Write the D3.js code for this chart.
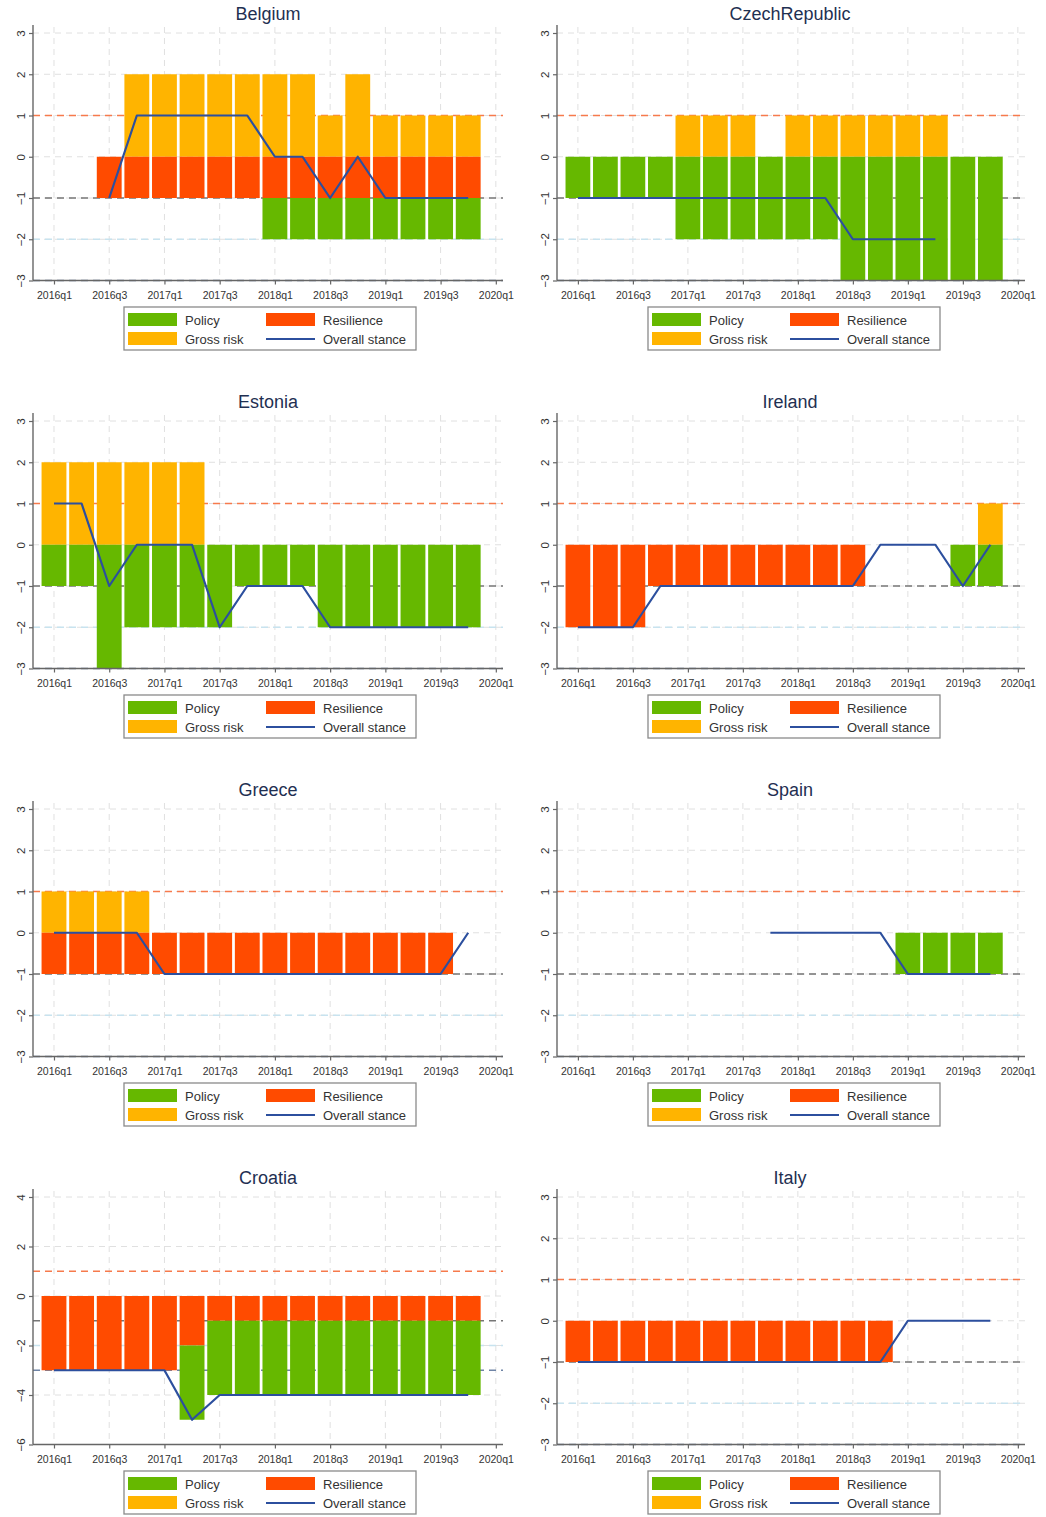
<!DOCTYPE html>
<html>
<head>
<meta charset="utf-8">
<script src="https://cdn.jsdelivr.net/npm/d3@7"></script>
<style>
  body { margin: 0; background: #fff; }
  svg { display: block; }
  text { font-family: "Liberation Sans", Arial, sans-serif; }
</style>
</head>
<body>
<svg id="chart" width="1046" height="1517"></svg>
<script>
// Quarters covered by the bars (2016q1 .. 2019q4)
const quarters = ["2016q1","2016q2","2016q3","2016q4","2017q1","2017q2","2017q3","2017q4",
                  "2018q1","2018q2","2018q3","2018q4","2019q1","2019q2","2019q3","2019q4"];
const xTickLabels = ["2016q1","2016q3","2017q1","2017q3","2018q1","2018q3","2019q1","2019q3","2020q1"];
const yTicksStandard = [-3, -2, -1, 0, 1, 2, 3];
const yTicksWide = [-6, -4, -2, 0, 2, 4];
const seriesNames = ["Policy", "Resilience", "Gross risk", "Overall stance"];
const thresholdValues = [1, -1, -2, -3];

// Belgium
const belgiumPolicy     = [0,0,0,0,0,0,0,0,-1,-1,-1,-1,-1,-1,-1,-1];
const belgiumResilience = [0,0,-1,-1,-1,-1,-1,-1,-1,-1,-1,-1,-1,-1,-1,-1];
const belgiumGross      = [0,0,0,2,2,2,2,2,2,2,1,2,1,1,1,1];
const belgiumStance     = [null,null,-1,1,1,1,1,1,0,0,-1,0,-1,-1,-1,-1];
// Czech Republic
const czechPolicy       = [-1,-1,-1,-1,-2,-2,-2,-2,-2,-2,-3,-3,-3,-3,-3,-3];
const czechResilience   = [0,0,0,0,0,0,0,0,0,0,0,0,0,0,0,0];
const czechGross        = [0,0,0,0,1,1,1,0,1,1,1,1,1,1,0,0];
const czechStance       = [-1,-1,-1,-1,-1,-1,-1,-1,-1,-1,-2,-2,-2,-2,null,null];
// Estonia
const estoniaPolicy     = [-1,-1,-3,-2,-2,-2,-2,-1,-1,-1,-2,-2,-2,-2,-2,-2];
const estoniaResilience = [0,0,0,0,0,0,0,0,0,0,0,0,0,0,0,0];
const estoniaGross      = [2,2,2,2,2,2,0,0,0,0,0,0,0,0,0,0];
const estoniaStance     = [1,1,-1,0,0,0,-2,-1,-1,-1,-2,-2,-2,-2,-2,-2];
// Ireland
const irelandPolicy     = [0,0,0,0,0,0,0,0,0,0,0,0,0,0,-1,-1];
const irelandResilience = [-2,-2,-2,-1,-1,-1,-1,-1,-1,-1,-1,0,0,0,0,0];
const irelandGross      = [0,0,0,0,0,0,0,0,0,0,0,0,0,0,0,1];
const irelandStance     = [-2,-2,-2,-1,-1,-1,-1,-1,-1,-1,-1,0,0,0,-1,0];
// Greece
const greecePolicy      = [0,0,0,0,0,0,0,0,0,0,0,0,0,0,0,0];
const greeceResilience  = [-1,-1,-1,-1,-1,-1,-1,-1,-1,-1,-1,-1,-1,-1,-1,0];
const greeceGross       = [1,1,1,1,0,0,0,0,0,0,0,0,0,0,0,0];
const greeceStance      = [0,0,0,0,-1,-1,-1,-1,-1,-1,-1,-1,-1,-1,-1,0];
// Spain
const spainPolicy       = [0,0,0,0,0,0,0,0,0,0,0,0,-1,-1,-1,-1];
const spainResilience   = [0,0,0,0,0,0,0,0,0,0,0,0,0,0,0,0];
const spainGross        = [0,0,0,0,0,0,0,0,0,0,0,0,0,0,0,0];
const spainStance       = [null,null,null,null,null,null,null,0,0,0,0,0,-1,-1,-1,-1];
// Croatia
const croatiaPolicy     = [0,0,0,0,0,-3,-3,-3,-3,-3,-3,-3,-3,-3,-3,-3];
const croatiaResilience = [-3,-3,-3,-3,-3,-2,-1,-1,-1,-1,-1,-1,-1,-1,-1,-1];
const croatiaGross      = [0,0,0,0,0,0,0,0,0,0,0,0,0,0,0,0];
const croatiaStance     = [-3,-3,-3,-3,-3,-5,-4,-4,-4,-4,-4,-4,-4,-4,-4,-4];
// Italy
const italyPolicy       = [0,0,0,0,0,0,0,0,0,0,0,0,0,0,0,0];
const italyResilience   = [-1,-1,-1,-1,-1,-1,-1,-1,-1,-1,-1,-1,0,0,0,0];
const italyGross        = [0,0,0,0,0,0,0,0,0,0,0,0,0,0,0,0];
const italyStance       = [-1,-1,-1,-1,-1,-1,-1,-1,-1,-1,-1,-1,0,0,0,0];

const panels = [
  { title: "Belgium",       policy: belgiumPolicy, resilience: belgiumResilience, gross: belgiumGross, stance: belgiumStance, yTicks: yTicksStandard },
  { title: "CzechRepublic", policy: czechPolicy,   resilience: czechResilience,   gross: czechGross,   stance: czechStance,   yTicks: yTicksStandard },
  { title: "Estonia",       policy: estoniaPolicy, resilience: estoniaResilience, gross: estoniaGross, stance: estoniaStance, yTicks: yTicksStandard },
  { title: "Ireland",       policy: irelandPolicy, resilience: irelandResilience, gross: irelandGross, stance: irelandStance, yTicks: yTicksStandard },
  { title: "Greece",        policy: greecePolicy,  resilience: greeceResilience,  gross: greeceGross,  stance: greeceStance,  yTicks: yTicksStandard },
  { title: "Spain",         policy: spainPolicy,   resilience: spainResilience,   gross: spainGross,   stance: spainStance,   yTicks: yTicksStandard },
  { title: "Croatia",       policy: croatiaPolicy, resilience: croatiaResilience, gross: croatiaGross, stance: croatiaStance, yTicks: yTicksWide },
  { title: "Italy",         policy: italyPolicy,   resilience: italyResilience,   gross: italyGross,   stance: italyStance,   yTicks: yTicksStandard }
];

// Styling
const colPolicy = "#66b800";
const colResilience = "#ff4b00";
const colGross = "#ffb400";
const colStance = "#2c4f9e";
const thresholdColors = ["#f67a4c", "#767676", "#c8e3ef", "#6f84a6"];
const gridColor = "#e0e0e0";
const axisColor = "#666";

const svg = d3.select("#chart");

// quarter label -> position index from 2016q1
function quarterIndex(label) {
  const year = +label.slice(0, 4), q = +label.slice(5);
  return (year - 2016) * 4 + (q - 1);
}

const colLayout = [ { axisX: 33, width: 470, center: 268 }, { axisX: 557, width: 468, center: 790 } ];
const rowStep = 388;
const plotTop = 33, plotBottom = 280.5, axisTop = 25;

panels.forEach((p, i) => {
  const col = colLayout[i % 2];
  const rowY = Math.floor(i / 2) * rowStep;
  const g = svg.append("g").attr("transform", `translate(0,${rowY})`);

  const x = d3.scaleLinear().domain([-0.76, 16.26]).range([col.axisX, col.axisX + col.width]);
  const yExt = d3.extent(p.yTicks);
  const y = d3.scaleLinear().domain(yExt).range([plotBottom, plotTop]);
  const right = col.axisX + col.width;

  // title
  g.append("text").attr("x", col.center).attr("y", 20)
    .attr("text-anchor", "middle").attr("font-size", 18).attr("fill", "#1f3052")
    .text(p.title);

  // grid
  g.append("g").selectAll("line").data(p.yTicks).join("line")
    .attr("x1", col.axisX).attr("x2", right)
    .attr("y1", d => y(d)).attr("y2", d => y(d))
    .attr("stroke", gridColor).attr("stroke-width", 1).attr("stroke-dasharray", "6,5");
  g.append("g").selectAll("line").data(xTickLabels).join("line")
    .attr("x1", d => x(quarterIndex(d))).attr("x2", d => x(quarterIndex(d)))
    .attr("y1", axisTop + 2).attr("y2", plotBottom)
    .attr("stroke", gridColor).attr("stroke-width", 1).attr("stroke-dasharray", "6,5");

  // threshold reference lines
  g.append("g").selectAll("line").data(thresholdValues).join("line")
    .attr("x1", col.axisX).attr("x2", right)
    .attr("y1", d => y(d)).attr("y2", d => y(d))
    .attr("stroke", (d, k) => thresholdColors[k]).attr("stroke-width", 1.5)
    .attr("stroke-dasharray", "7,5");

  // stacked bars: gross risk above zero, resilience then policy below zero
  const step = x(1) - x(0);
  const bw = step * 0.9;
  const segs = [];
  quarters.forEach((q, k) => {
    const gr = p.gross[k], rs = p.resilience[k], po = p.policy[k];
    if (gr) segs.push({ k, y0: 0, y1: gr, c: colGross });
    if (rs) segs.push({ k, y0: 0, y1: rs, c: colResilience });
    if (po) {
      const base = po < 0 ? Math.min(rs, 0) : Math.max(gr, 0);
      segs.push({ k, y0: base, y1: base + po, c: colPolicy });
    }
  });
  g.append("g").selectAll("rect").data(segs).join("rect")
    .attr("x", d => x(d.k) - bw / 2).attr("width", bw)
    .attr("y", d => y(Math.max(d.y0, d.y1)))
    .attr("height", d => Math.abs(y(d.y0) - y(d.y1)))
    .attr("fill", d => d.c);

  // overall stance line
  const line = d3.line()
    .defined(d => d != null)
    .x((d, k) => x(k)).y(d => y(d));
  g.append("path").datum(p.stance)
    .attr("d", line).attr("fill", "none")
    .attr("stroke", colStance).attr("stroke-width", 2.2).attr("stroke-linejoin", "round");

  // axes
  const yAxis = d3.axisLeft(y).tickValues(p.yTicks).tickSize(4).tickFormat(d3.format("d"));
  const ya = g.append("g").attr("transform", `translate(${col.axisX},0)`).call(yAxis);
  ya.select(".domain").attr("d", `M0,${axisTop}V${plotBottom}`);
  ya.selectAll(".tick text")
    .attr("transform", "translate(-8,0) rotate(-90)")
    .attr("x", 0).attr("y", 0).attr("dy", 0)
    .attr("text-anchor", "middle").attr("font-size", 11.5).attr("fill", "#333");

  const xAxis = d3.axisBottom(x).tickValues(xTickLabels.map(quarterIndex)).tickSize(4).tickPadding(7)
    .tickFormat((d, k) => xTickLabels[k]);
  const xa = g.append("g").attr("transform", `translate(0,${plotBottom})`).call(xAxis);
  xa.select(".domain").attr("d", `M${col.axisX},0H${right}`);
  xa.selectAll("text").attr("font-size", 10.5).attr("fill", "#333");

  [ya, xa].forEach(a => {
    a.selectAll(".domain").attr("stroke", axisColor).attr("stroke-width", 1.4);
    a.selectAll(".tick line").attr("stroke", axisColor).attr("stroke-width", 1.2);
  });

  // legend
  const lx = col.axisX + 91, ly = 307;
  const lg = g.append("g").attr("transform", `translate(${lx},${ly})`);
  lg.append("rect").attr("x", 0).attr("y", 0).attr("width", 292).attr("height", 43)
    .attr("fill", "#fff").attr("stroke", "#8a8a8a").attr("stroke-width", 1.3);
  const items = [
    { name: seriesNames[0], c: colPolicy, type: "rect", cx: 4, cy: 6 },
    { name: seriesNames[1], c: colResilience, type: "rect", cx: 142, cy: 6 },
    { name: seriesNames[2], c: colGross, type: "rect", cx: 4, cy: 25 },
    { name: seriesNames[3], c: colStance, type: "line", cx: 142, cy: 25 }
  ];
  items.forEach(it => {
    if (it.type === "rect") {
      lg.append("rect").attr("x", it.cx).attr("y", it.cy).attr("width", 49).attr("height", 13).attr("fill", it.c);
    } else {
      lg.append("line").attr("x1", it.cx).attr("x2", it.cx + 49)
        .attr("y1", it.cy + 7).attr("y2", it.cy + 7)
        .attr("stroke", it.c).attr("stroke-width", 2);
    }
    lg.append("text").attr("x", it.cx + 57).attr("y", it.cy + 12)
      .attr("font-size", 13).attr("fill", "#333").text(it.name);
  });
});
</script>
</body>
</html>
